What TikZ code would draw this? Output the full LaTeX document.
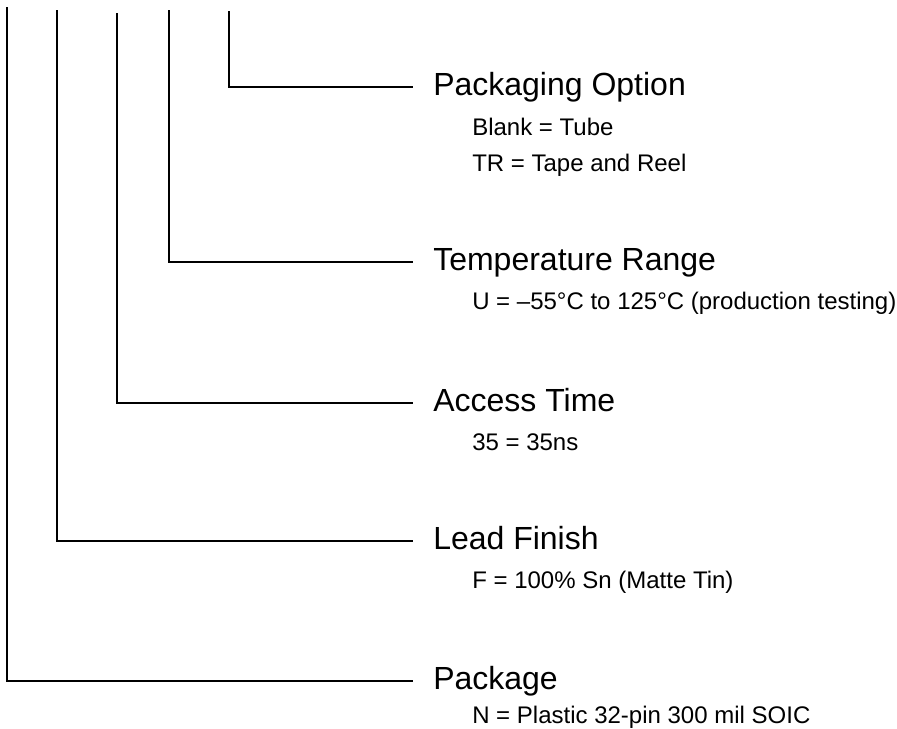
\documentclass[tikz,border=0pt]{standalone}
\usepackage{fontspec}
\setmainfont{Liberation Sans}
\usetikzlibrary{positioning,calc}

\tikzset{
  lead/.style={line width=1.4pt},
  title/.style={font=\fontsize{24}{28}\selectfont, anchor=west, inner xsep=15pt, inner ysep=0pt, text height=17pt, text depth=4pt},
  option/.style={font=\fontsize{18}{21}\selectfont, anchor=base west, inner sep=0pt}
}

\begin{document}
\begin{tikzpicture}[x=0.75pt, y=-0.75pt]
  \useasboundingbox (0,0) rectangle (897,729);

  \coordinate (pkgtop) at (7,7);
  \coordinate (fintop) at (57,10);
  \coordinate (acctop) at (117,13);
  \coordinate (temptop) at (169,10);
  \coordinate (opttop) at (229,11);

  \node[title] (opt) at (413,87) {Packaging Option};
  \node[title] (temp) at (413,262) {Temperature Range};
  \node[title] (acc) at (413,403) {Access Time};
  \node[title] (fin) at (413,541) {Lead Finish};
  \node[title] (pkg) at (413,681) {Package};

  \node[option] (opt1) at (472,135) {Blank = Tube};
  \node[option] (opt2) at (472,171) {TR = Tape and Reel};
  \node[option] (temp1) at (472,309) {U = –55°C to 125°C (production testing)};
  \node[option] (acc1) at (472,450) {35 = 35ns};
  \node[option] (fin1) at (472,588) {F = 100\% Sn (Matte Tin)};
  \node[option] (pkg1) at (472,723) {N = Plastic 32-pin 300 mil SOIC};

  \draw[lead] (opttop) |- (opt.west);
  \draw[lead] (temptop) |- (temp.west);
  \draw[lead] (acctop) |- (acc.west);
  \draw[lead] (fintop) |- (fin.west);
  \draw[lead] (pkgtop) |- (pkg.west);
\end{tikzpicture}
\end{document}
